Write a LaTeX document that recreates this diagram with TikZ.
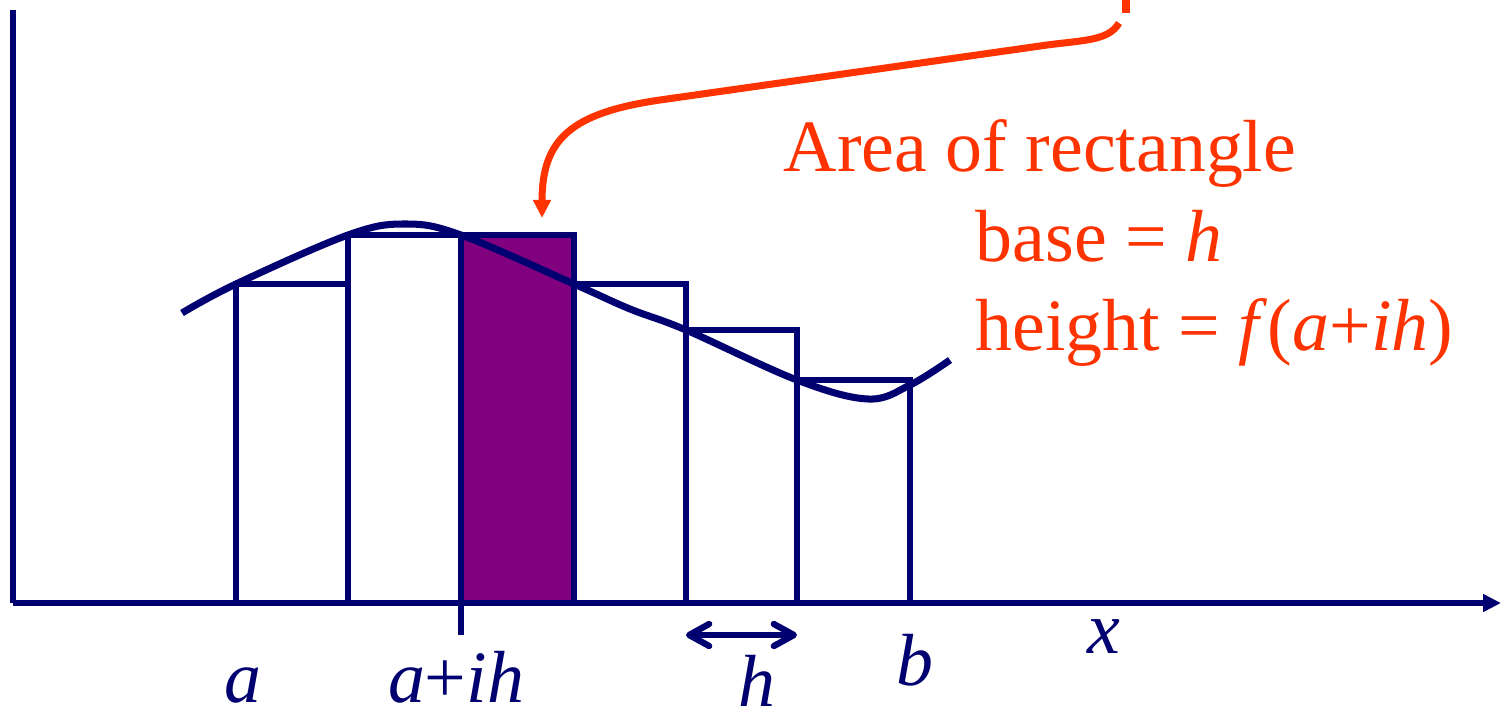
\documentclass[tikz,border=0pt]{standalone}
\usepackage{fontspec}
\setmainfont{Liberation Serif}
\usetikzlibrary{arrows.meta}
\definecolor{navy}{RGB}{0,0,112}
\definecolor{shaded}{RGB}{128,0,128}
\definecolor{note}{RGB}{255,51,0}
\tikzset{
  axisline/.style={navy, line width=1.7pt},
  barline/.style={navy, line width=1.7pt},
  curveline/.style={navy, line width=2pt},
  notetext/.style={note, inner sep=0pt, anchor=base west, font=\fontsize{21}{25}\selectfont},
  labtext/.style={navy, inner sep=0pt, anchor=base, font=\fontsize{21}{25}\selectfont\itshape},
}
\begin{document}
\begin{tikzpicture}[x=0.01cm,y=-0.01cm]
		\useasboundingbox (0,0) rectangle (1507,718);

		% Eixos
		\coordinate (O) at (13,603);
		\coordinate (Ytop) at (13,10);
		\coordinate (Xend) at (1501,603);
		\draw[axisline] (Ytop) -- (O);
		\draw[axisline,-{Triangle[length=0.18cm,width=0.17cm]}] (O) -- (Xend);

		% Rectangles
		\fill[shaded] (461,235) rectangle (574,603);
		\foreach \xl/\xr/\yt in {236/348/284,348/461/235,461/574/235,574/686/284,686/797/330,797/910/380} {
			\draw[barline] (\xl,603) rectangle (\xr,\yt);
		}
		\draw[barline] (461,603) -- (461,635);

		% Corba f(x)
		\draw[curveline] plot[smooth,tension=0.6] coordinates {(182,313) (236,284) (348,235) (405,224) (461,235) (574,284) (630,309) (686,330) (797,380) (868,399) (910,385) (950,360)};

		% Amplada h
		\coordinate (hL) at (686,635);
		\coordinate (hR) at (797,635);
		\draw[navy, line width=1.8pt, {Straight Barb[length=0.2cm,width=0.22cm,round]}-{Straight Barb[length=0.2cm,width=0.22cm,round]}] (hL) -- (hR);

		% Etiquetes
		\node[labtext] (lab-a) at (243,702) {a};
		\node[labtext] (lab-aih) at (456,702) {a\textup{+}ih};
		\node[labtext] (lab-h) at (757,706) {h};
		\node[labtext] (lab-b) at (915,685) {b};
		\node[labtext] (lab-x) at (1104,653) {x};

		% Nota
		\node[notetext] (area) at (783,171) {Area of rectangle};
		\node[notetext] (base) at (975,261) {base = \textit{h}};
		\node[notetext] (height) at (975,350) {height = \textit{f}(\textit{a}+\textit{ih})};

		\coordinate (topcut) at (1126,-5);
		\coordinate (topend) at (1126,13);
		\coordinate (start) at (1119,23);
		\coordinate (tip) at (542,218);
		\draw[note, line width=2.2pt] (topcut) -- (topend);
		\draw[note, line width=2pt, -{Triangle[length=0.18cm,width=0.17cm]}] (start) .. controls (1108,42) and (1080,40) .. (1040,46) -- (660,100) .. controls (570,113) and (542,140) .. (tip);
	\end{tikzpicture}
\end{document}
